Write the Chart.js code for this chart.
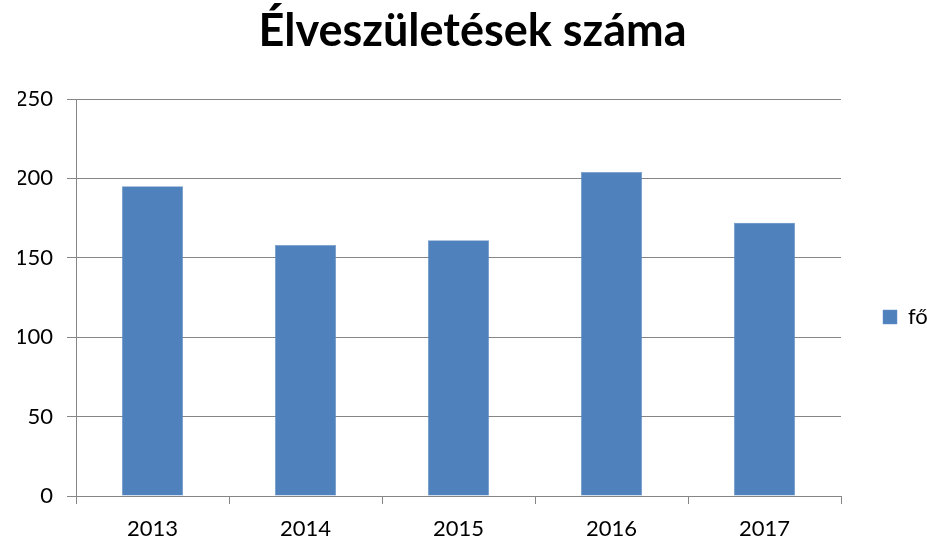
<!DOCTYPE html>
<html>
<head>
<meta charset="utf-8">
<script src="https://cdn.jsdelivr.net/npm/chart.js@4"></script>
<style>
  html, body { margin: 0; padding: 0; background: #fff; }
</style>
</head>
<body>
<canvas id="chart" width="927" height="542"></canvas>
<script>
const years = ["2013", "2014", "2015", "2016", "2017"];
const births = [195, 158, 161, 204, 172];
const seriesName = "fő";
const chartTitle = "Élveszületések száma";

const gridGray = "#868686";
const barBlue = "#4F81BD";

new Chart(document.getElementById("chart"), {
    type: "bar",
    data: {
        labels: years,
        datasets: [
            {
                label: seriesName,
                data: births,
                backgroundColor: barBlue,
                borderColor: "#6a93c8",
                borderWidth: 0.5,
                categoryPercentage: 1,
                barPercentage: 0.4,
            },
        ],
    },
    options: {
        responsive: false,
        animation: false,
        layout: { padding: { left: 18, right: 0, top: 0, bottom: 0 } },
        plugins: {
            title: {
                display: true,
                text: chartTitle,
                color: "#000",
                font: { family: "Lato", weight: "bold", size: 45 },
                padding: { top: 4, bottom: 41 },
            },
            legend: {
                position: "right",
                maxWidth: 86,
                // empty legend title, only used to push the entry down
                title: {
                    display: true,
                    text: "",
                    font: { size: 10 },
                    padding: { top: 0, bottom: 80 },
                },
                labels: {
                    boxWidth: 14,
                    boxHeight: 14,
                    padding: 42,
                    color: "#000",
                    font: { family: "Lato", size: 22 },
                },
            },
            tooltip: { enabled: false },
        },
        scales: {
            x: {
                afterFit: (scale) => { scale.height = 46; },
                grid: {
                    offset: true,
                    drawOnChartArea: false,
                    drawTicks: true,
                    tickLength: 8,
                    color: gridGray,
                },
                border: { color: gridGray, width: 1 },
                ticks: {
                    color: "#000",
                    padding: 12,
                    font: { family: "Lato", size: 22 },
                },
            },
            y: {
                min: 0,
                max: 250,
                afterFit: (scale) => { scale.width = 58; },
                grid: {
                    color: gridGray,
                    tickLength: 9,
                },
                border: { color: gridGray, width: 1 },
                ticks: {
                    stepSize: 50,
                    color: "#000",
                    padding: 14,
                    font: { family: "Lato", size: 22 },
                },
            },
        },
    },
});
</script>
</body>
</html>
